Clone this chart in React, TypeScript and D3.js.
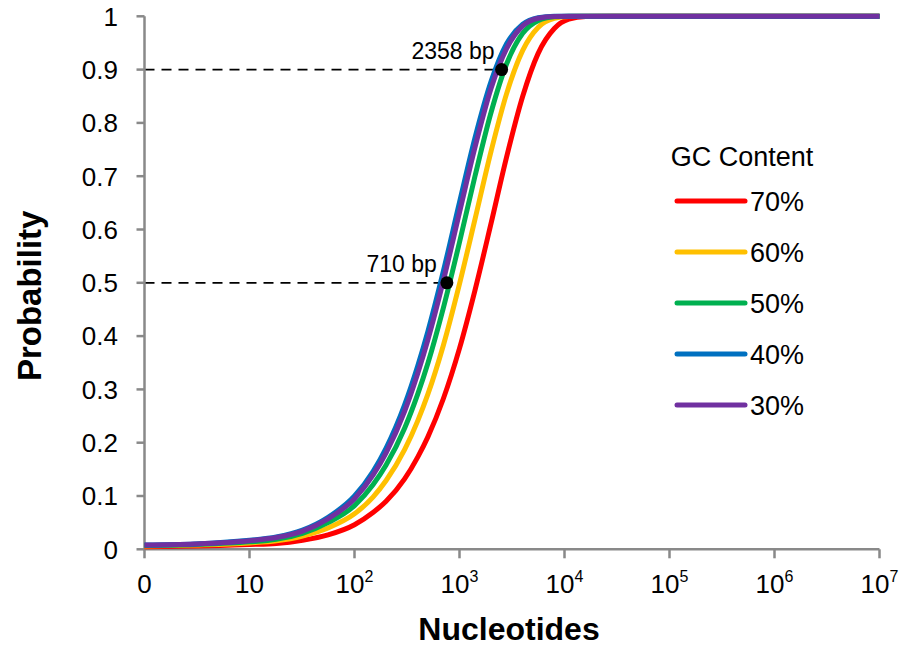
import React from "react";
import * as d3 from "d3";

const nucleotides = [1, 3, 10, 18, 32, 56, 100, 150, 200, 300, 400, 500, 700, 1000, 1400, 2000, 2800, 4000, 5600, 8000, 11000, 16000, 30000, 1e5, 1e6, 1e7];

const gc70 = [0.005, 0.006, 0.009, 0.011, 0.017, 0.027, 0.046, 0.069, 0.090, 0.132, 0.173, 0.211, 0.282, 0.377, 0.485, 0.612, 0.735, 0.850, 0.930, 0.977, 0.9945, 0.9995, 1, 1, 1, 1];
const gc60 = [0.006, 0.008, 0.012, 0.016, 0.025, 0.040, 0.0665, 0.098, 0.129, 0.187, 0.241, 0.291, 0.382, 0.498, 0.618, 0.747, 0.854, 0.936, 0.979, 0.996, 0.9995, 1, 1, 1, 1, 1];
const gc50 = [0.007, 0.009, 0.014, 0.019, 0.030, 0.050, 0.082, 0.121, 0.158, 0.227, 0.291, 0.349, 0.452, 0.576, 0.699, 0.820, 0.910, 0.968, 0.9918, 0.999, 1, 1, 1, 1, 1, 1];
const gc40 = [0.008, 0.010, 0.017, 0.023, 0.036, 0.060, 0.100, 0.146, 0.190, 0.271, 0.344, 0.409, 0.521, 0.651, 0.771, 0.878, 0.948, 0.985, 0.9972, 1, 1, 1, 1, 1, 1, 1];
const gc30 = [0.008, 0.010, 0.016, 0.022, 0.034, 0.057, 0.095, 0.139, 0.181, 0.259, 0.330, 0.393, 0.503, 0.632, 0.753, 0.865, 0.939, 0.982, 0.9963, 0.9997, 1, 1, 1, 1, 1, 1];

const seriesNames = ["70%", "60%", "50%", "40%", "30%"];
const seriesValues = [gc70, gc60, gc50, gc40, gc30];
const seriesColors = ["#FF0000", "#FFC000", "#00B050", "#0070C0", "#7030A0"];

const xTickValues = [1, 10, 100, 1000, 1e4, 1e5, 1e6, 1e7];
const xTickBase = ["0", "10", "10", "10", "10", "10", "10", "10"];
const xTickSup = ["", "", "2", "3", "4", "5", "6", "7"];
const yTickValues = [0, 0.1, 0.2, 0.3, 0.4, 0.5, 0.6, 0.7, 0.8, 0.9, 1];

const markerX = [710, 2358];
const markerY = [0.5, 0.9];
const markerLabels = ["710 bp", "2358 bp"];

const FONT = "'Liberation Sans', Arial, sans-serif";

export default function App() {
  const x = d3.scaleLog().domain([1, 1e7]).range([144.5, 879.5]);
  const y = d3.scaleLinear().domain([0, 1]).range([549.3, 16.3]);
  const axisColor = "#898989";

  const line = d3
    .line<[number, number]>()
    .x((d) => x(d[0]))
    .y((d) => y(d[1]))
    .curve(d3.curveMonotoneX);

  const legendX0 = 677;
  const legendX1 = 745;
  const legendY = [201, 252, 303, 354, 405];

  return (
    <svg
      width={904}
      height={650}
      style={{ position: "absolute", left: 0, top: 0, background: "#fff" }}
      fontFamily={FONT}
    >
      <rect x={0} y={0} width={904} height={650} fill="#fff" />
      {markerX.map((mx, i) => (
        <line
          key={"d" + i}
          x1={x(1)}
          x2={x(mx)}
          y1={y(markerY[i])}
          y2={y(markerY[i])}
          stroke="#000"
          strokeWidth={1.8}
          strokeDasharray="10,7"
        />
      ))}
      <line x1={x(1)} x2={x(1)} y1={y(1)} y2={y(0)} stroke={axisColor} strokeWidth={2.5} />
      <line x1={x(1) - 1} x2={x(1e7)} y1={y(0)} y2={y(0)} stroke={axisColor} strokeWidth={2.5} />
      {yTickValues.map((v) => (
        <g key={"yt" + v}>
          <line x1={x(1) - 8} x2={x(1)} y1={y(v)} y2={y(v)} stroke={axisColor} strokeWidth={2.5} />
          <text x={118} y={y(v)} dy="0.36em" textAnchor="end" fontSize={26} fill="#000">
            {String(v)}
          </text>
        </g>
      ))}
      {xTickValues.map((v, i) => (
        <g key={"xt" + v}>
          <line x1={x(v)} x2={x(v)} y1={y(0)} y2={y(0) + 9} stroke={axisColor} strokeWidth={2.5} />
          <text x={x(v)} y={593} textAnchor="middle" fontSize={26} fill="#000">
            {xTickBase[i]}
            {xTickSup[i] ? (
              <tspan fontSize={16} dy={-11}>
                {xTickSup[i]}
              </tspan>
            ) : null}
          </text>
        </g>
      ))}
      {seriesValues.map((vals, si) => (
        <path
          key={"s" + si}
          d={line(nucleotides.map((n, j) => [n, vals[j]] as [number, number])) || ""}
          fill="none"
          stroke={seriesColors[si]}
          strokeWidth={5}
          strokeLinejoin="round"
        />
      ))}
      {markerX.map((mx, i) => (
        <g key={"m" + i}>
          <circle cx={x(mx) + 3} cy={y(markerY[i])} r={6.5} fill="#000" />
          <text
            x={x(mx) - (i === 0 ? 7 : 4)}
            y={y(markerY[i]) - 11}
            textAnchor="end"
            fontSize={23}
            fill="#000"
          >
            {markerLabels[i]}
          </text>
        </g>
      ))}
      <text x={509} y={640} textAnchor="middle" fontSize={32} fontWeight="bold" fill="#000">
        Nucleotides
      </text>
      <text
        transform={`translate(41,${(y(0) + y(1)) / 2 + 13}) rotate(-90)`}
        textAnchor="middle"
        fontSize={33}
        fontWeight="bold"
        fill="#000"
      >
        Probability
      </text>
      <text x={742} y={166} textAnchor="middle" fontSize={27} fill="#000">
        GC Content
      </text>
      {seriesNames.map((name, i) => (
        <g key={"l" + i}>
          <line
            x1={legendX0}
            x2={legendX1}
            y1={legendY[i]}
            y2={legendY[i]}
            stroke={seriesColors[i]}
            strokeWidth={5}
            strokeLinecap="round"
          />
          <text x={750} y={legendY[i]} dy="0.36em" fontSize={27} fill="#000">
            {name}
          </text>
        </g>
      ))}
    </svg>
  );
}
